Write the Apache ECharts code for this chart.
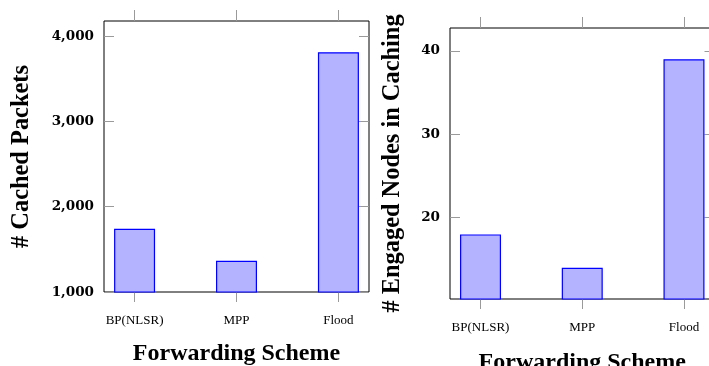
<!DOCTYPE html>
<html><head><meta charset="utf-8">
<script src="https://cdn.jsdelivr.net/npm/echarts@6/dist/echarts.min.js"></script>
<style>html,body{margin:0;padding:0;background:#fff}#c{width:709px;height:366px}</style>
</head><body><div id="c"></div>
<script>
const categories = ['BP(NLSR)', 'MPP', 'Flood'];
const cachedPackets = [1740, 1365, 3810];
const engagedNodes = [18, 14, 39];
const xTickPositions = [0, 1, 2];
const leftYTicks = [1000, 2000, 3000, 4000];
const rightYTicks = [20, 30, 40];
const leftYName = '# Cached Packets';
const rightYName = '# Engaged Nodes in Caching';
const xName = 'Forwarding Scheme';

const serif = 'Liberation Serif';
const tickColor = '#9a9a9a';

function xAxes(gridIndex, nameGap) {
  const common = {
    type: 'value', gridIndex, min: -0.3, max: 2.3,
    splitLine: {show: false}, axisLine: {show: false, onZero: false}
  };
  return [
    Object.assign({}, common, {
      position: 'bottom',
      axisTick: {show: true, inside: false, length: 10, lineStyle: {color: tickColor}, customValues: xTickPositions},
      axisLabel: {show: true, margin: 22, fontFamily: serif, fontSize: 13, color: '#000',
        customValues: xTickPositions, formatter: v => categories[Math.round(v)]},
      name: xName, nameLocation: 'middle', nameGap: nameGap,
      nameTextStyle: {fontFamily: serif, fontWeight: 'bold', fontSize: 24, color: '#000'}
    }),
    Object.assign({}, common, {
      position: 'top',
      axisTick: {show: true, inside: false, length: 11, lineStyle: {color: tickColor}, customValues: xTickPositions},
      axisLabel: {show: false}
    })
  ];
}

function yAxes(gridIndex, opts) {
  const common = {type: 'value', gridIndex, min: opts.min, max: opts.max,
    splitLine: {show: false}, axisLine: {show: false, onZero: false}};
  const tick = {show: true, inside: true, length: 10, lineStyle: {color: tickColor}, customValues: opts.ticks};
  const lbl = {show: true, margin: 10, fontFamily: 'DejaVu Serif', fontWeight: 'bold', fontSize: 13.5, color: '#000',
    customValues: opts.ticks};
  return [
    Object.assign({}, common, {
      position: 'left', axisTick: tick, axisLabel: lbl,
      name: opts.name, nameLocation: 'middle', nameRotate: 90, nameGap: opts.nameGap,
      nameTextStyle: {fontFamily: serif, fontWeight: 'bold', fontSize: 24.4, color: '#000'}
    }),
    Object.assign({}, common, {position: 'right', axisTick: tick, axisLabel: {show: false}})
  ];
}

const barStyle = {color: '#b3b3ff', borderColor: '#0000ff', borderWidth: 1.2};

const option = {
  animation: false,
  grid: [
    {left: 104, top: 21, width: 265, height: 271, show: true, borderColor: '#000', borderWidth: 1,
      backgroundColor: 'transparent', outerBoundsMode: 'none', containLabel: false},
    {left: 450, top: 28, width: 264.5, height: 271, show: true, borderColor: '#000', borderWidth: 1,
      backgroundColor: 'transparent', outerBoundsMode: 'none', containLabel: false}
  ],
  xAxis: [...xAxes(0, 50), ...xAxes(1, 52)],
  yAxis: [
    ...yAxes(0, {min: 1000, max: 4176, ticks: leftYTicks, name: leftYName, nameGap: 70}),
    ...yAxes(1, {min: 10.25, max: 42.75, ticks: rightYTicks, name: rightYName, nameGap: 45})
  ],
  series: [
    {type: 'bar', xAxisIndex: 0, yAxisIndex: 0, barWidth: 41, itemStyle: barStyle,
      data: cachedPackets.map((v, i) => [xTickPositions[i], v])},
    {type: 'bar', xAxisIndex: 2, yAxisIndex: 2, barWidth: 41, itemStyle: barStyle,
      data: engagedNodes.map((v, i) => [xTickPositions[i], v])}
  ]
};
const chart = echarts.init(document.getElementById('c'), null, {renderer: 'canvas'});
chart.setOption(option);
</script></body></html>
